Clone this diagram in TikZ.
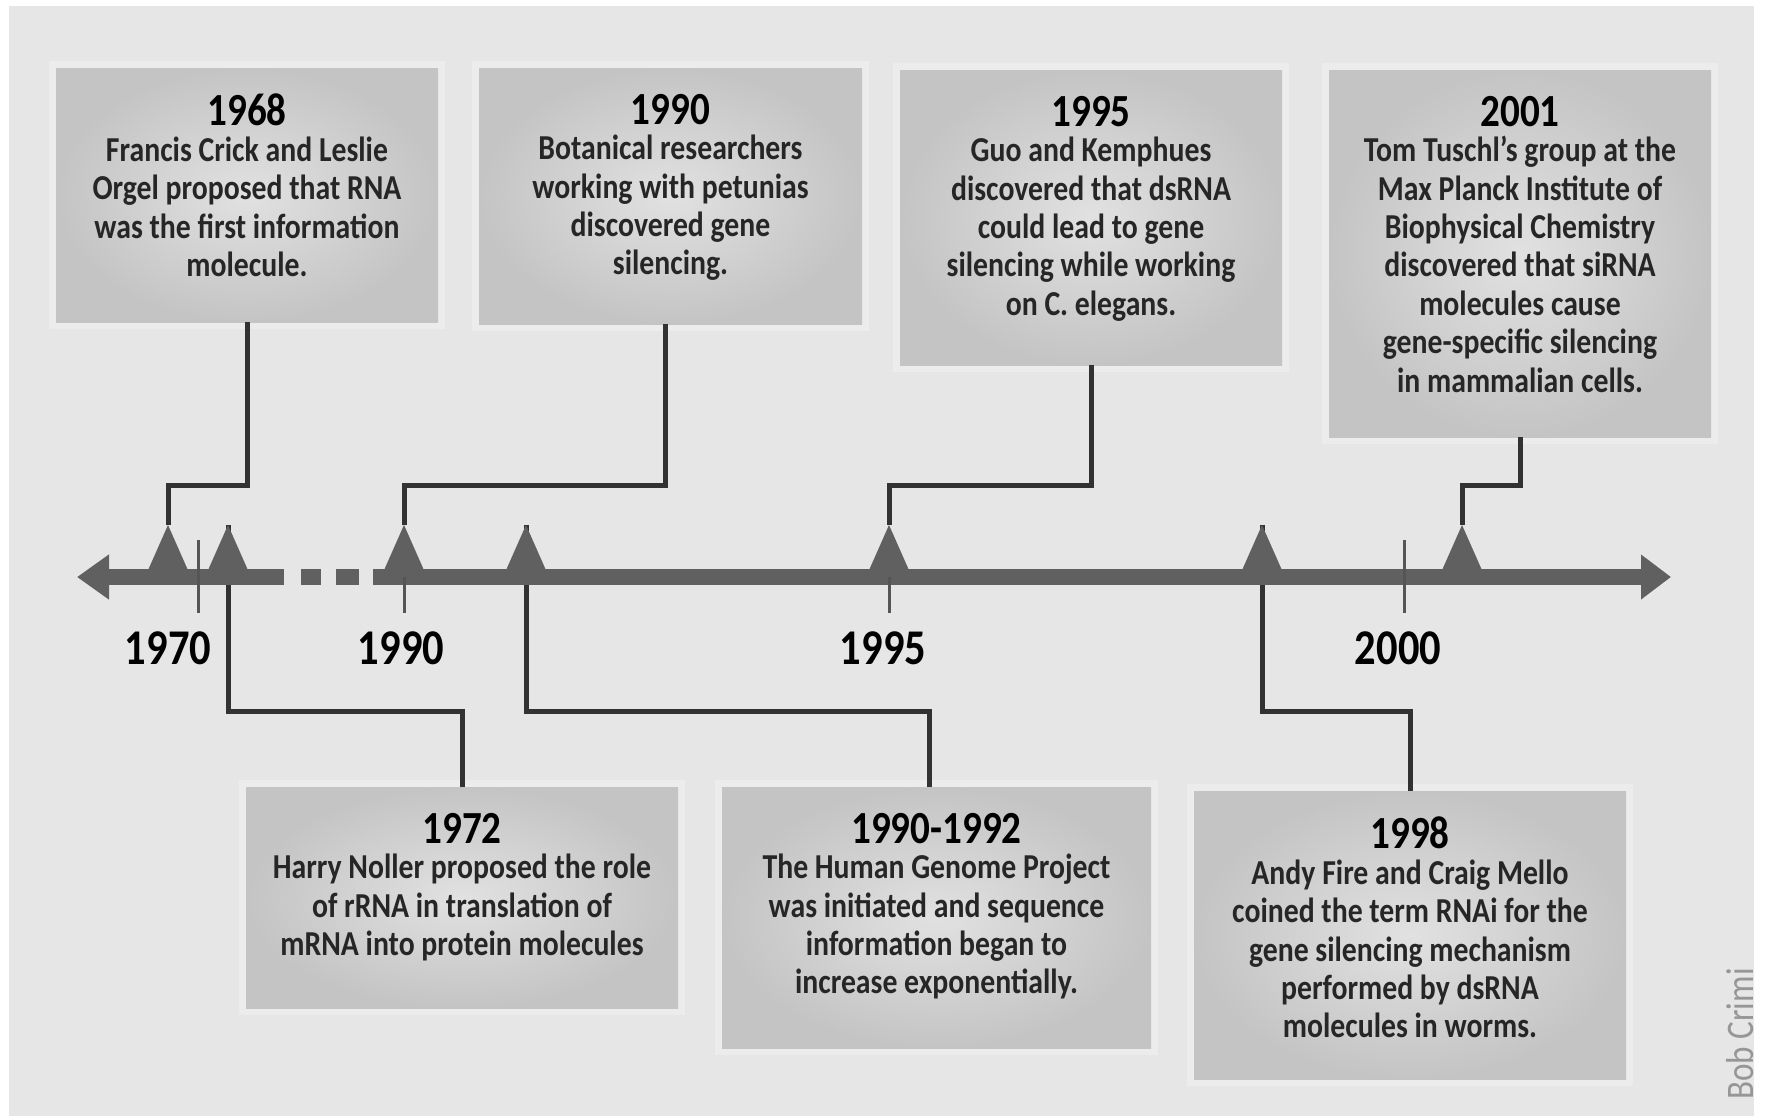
\documentclass[tikz,border=0pt]{standalone}
\usepackage{fontspec}
\setmainfont{Carlito}[FakeStretch=0.85]
\usetikzlibrary{arrows.meta}
\definecolor{bg}{RGB}{230,230,230}
\definecolor{halo}{RGB}{236,236,236}
\definecolor{boxin}{RGB}{225,225,225}
\definecolor{boxout}{RGB}{196,196,196}
\definecolor{barc}{RGB}{96,96,96}
\definecolor{tickc}{RGB}{85,85,85}
\definecolor{connc}{RGB}{50,50,50}
\definecolor{bodytext}{RGB}{38,38,38}
\definecolor{creditc}{RGB}{150,150,150}
\newcommand\evyear[1]{{\fontsize{23}{23}\selectfont\color{black}#1}\\[-1.4pt]}
\begin{document}
\begin{tikzpicture}[x=0.5pt,y=-0.5pt,
  box/.style={rectangle, inner sep=0pt, inner color=boxin, outer color=boxout,
    preaction={draw=halo, line width=7pt}},
  evtext/.style={anchor=north, align=center, inner sep=0pt,
    font=\bfseries\fontsize{17.5}{19.2}\selectfont, text=bodytext},
  conn/.style={draw=connc, line width=2.5pt},
  bar/.style={draw=barc, line width=8pt},
  ticks/.style={draw=tickc, line width=1.5pt},
  yearlab/.style={anchor=base, inner sep=0pt, font=\bfseries\fontsize{25}{25}\selectfont, text=black}]
\useasboundingbox (0,0) rectangle (1771,1119);
\fill[white] (0,0) rectangle (1771,1119);
\fill[bg] (9,6) rectangle (1754,1116);

% boxes
\node[box, minimum width=191pt, minimum height=127pt] (b1968) at (247,195) {};
\node[box, minimum width=191.5pt, minimum height=128pt] (b1990) at (670.5,196) {};
\node[box, minimum width=191pt, minimum height=147.5pt] (b1995) at (1091,217.5) {};
\node[box, minimum width=191pt, minimum height=183.5pt] (b2001) at (1520,253.5) {};
\node[box, minimum width=216pt, minimum height=110.5pt] (b1972) at (462,897.5) {};
\node[box, minimum width=214.5pt, minimum height=130.5pt] (b9092) at (936.5,917.5) {};
\node[box, minimum width=216pt, minimum height=144pt] (b1998) at (1410,935) {};

% texts
\node[evtext] (t1968) at ([yshift=-13pt]b1968.north) {\evyear{1968}Francis Crick and Leslie\\Orgel proposed that RNA\\was the first information\\molecule.};
\node[evtext] (t1990) at ([yshift=-13pt]b1990.north) {\evyear{1990}Botanical researchers\\working with petunias\\discovered gene\\silencing.};
\node[evtext] (t1995) at ([yshift=-13pt]b1995.north) {\evyear{1995}Guo and Kemphues\\discovered that dsRNA\\could lead to gene\\silencing while working\\on C. elegans.};
\node[evtext] (t2001) at ([yshift=-13pt]b2001.north) {\evyear{2001}Tom Tuschl’s group at the\\Max Planck Institute of\\Biophysical Chemistry\\discovered that siRNA\\molecules cause\\gene-specific silencing\\in mammalian cells.};
\node[evtext] (t1972) at ([yshift=-13pt]b1972.north) {\evyear{1972}Harry Noller proposed the role\\of rRNA in translation of\\mRNA into protein molecules};
\node[evtext] (t9092) at ([yshift=-13pt]b9092.north) {\evyear{1990-1992}The Human Genome Project\\was initiated and sequence\\information began to\\increase exponentially.};
\node[evtext] (t1998) at ([yshift=-13pt]b1998.north) {\evyear{1998}Andy Fire and Craig Mello\\coined the term RNAi for the\\gene silencing mechanism\\performed by dsRNA\\molecules in worms.};

% marker apexes and connector levels
\coordinate (m1968) at (168,525);
\coordinate (m1972) at (228,525);
\coordinate (m1990) at (404,525);
\coordinate (m9092) at (526,525);
\coordinate (m1995) at (889,525);
\coordinate (m1998) at (1262,525);
\coordinate (m2001) at (1462,525);
\coordinate (hTop) at (0,485);
\coordinate (hBot) at (0,711);

% connectors
\draw[conn] (b1968.south) -- (b1968.south |- hTop) -| (m1968);
\draw[conn] ([xshift=-2.5pt]b1990.south) -- ([xshift=-2.5pt]b1990.south |- hTop) -| (m1990);
\draw[conn] (b1995.south) -- (b1995.south |- hTop) -| (m1995);
\draw[conn] (b2001.south) -- (b2001.south |- hTop) -| (m2001);
\draw[conn] (m1972) -- (m1972 |- hBot) -| (b1972.north);
\draw[conn] (m9092) -- (m9092 |- hBot) -| ([xshift=-3.5pt]b9092.north);
\draw[conn] (m1998) -- (m1998 |- hBot) -| (b1998.north);

% timeline bar
\coordinate (lt) at (77,577);
\coordinate (rt) at (1671,577);
\draw[bar, {Triangle[length=16pt,width=21.5pt]}-] (lt) -- (284,577);
\draw[bar] (301,577) -- (321,577);
\draw[bar] (336,577) -- (359,577);
\draw[bar, -{Triangle[length=15pt,width=21.5pt]}] (373,577) -- (rt);

% markers
\foreach \m in {m1968,m1972,m1990,m9092,m1995,m1998,m2001}
  \fill[barc] (\m) -- ++(23,52) -- ++(-46,0) -- cycle;

% ticks
\draw[ticks] (198,540) -- (198,613);
\draw[ticks] (404,577) -- (404,613);
\draw[ticks] (889,577) -- (889,613);
\draw[ticks] (1404,540) -- (1404,613);

% year labels
\node[yearlab] (y1970) at (168,664) {1970};
\node[yearlab] (y1990) at (401,664) {1990};
\node[yearlab] (y1995) at (883,664) {1995};
\node[yearlab] (y2000) at (1398,664) {2000};

% credit
\node[rotate=90, text=creditc, inner sep=0pt, font=\fontsize{19.5}{19.5}\selectfont] (credit) at (1740,1034) {Bob Crimi};
\end{tikzpicture}
\end{document}
